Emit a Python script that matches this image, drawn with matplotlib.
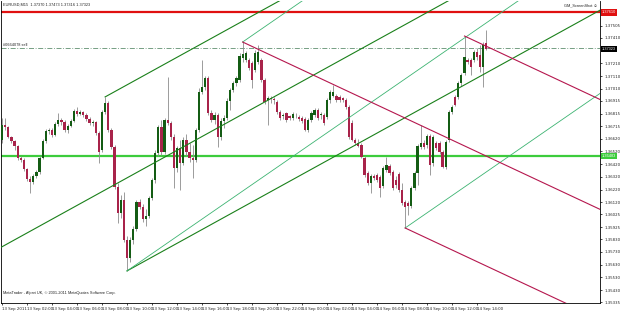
import matplotlib
matplotlib.use("Agg")
import matplotlib.pyplot as plt

# EURUSD M15, 13-14 Sep 2011, bar 0 = 13 Sep 00:00
symbol = "EURUSD,M15"

opens = [1.36609, 1.36727, 1.36711, 1.36633, 1.36601, 1.36562, 1.36468, 1.36452, 1.36381, 1.36303,
         1.36279, 1.36326, 1.36358, 1.36468, 1.36601, 1.36680, 1.36687, 1.36648, 1.36735, 1.36766,
         1.36750, 1.36687, 1.36719, 1.36758, 1.36837, 1.36813, 1.36829, 1.36805, 1.36774, 1.36742,
         1.36750, 1.36664, 1.36530, 1.36829, 1.36899, 1.36687, 1.36554, 1.36240, 1.36036, 1.36138,
         1.35824, 1.35683, 1.35824, 1.35910, 1.36122, 1.36083, 1.35989, 1.36012, 1.36154, 1.36295,
         1.36507, 1.36711, 1.36515, 1.36766, 1.36742, 1.36633, 1.36389, 1.36546, 1.36428, 1.36609,
         1.36515, 1.36468, 1.36452, 1.36687, 1.36986, 1.37025, 1.37096, 1.36821, 1.36766, 1.36805,
         1.36633, 1.36758, 1.36782, 1.36915, 1.37001, 1.37056, 1.37080, 1.37253, 1.37237, 1.37237,
         1.37213, 1.37158, 1.37221, 1.37237, 1.37080, 1.36923, 1.36939, 1.36931, 1.36907, 1.36829,
         1.36797, 1.36821, 1.36797, 1.36782, 1.36805, 1.36790, 1.36782, 1.36774, 1.36687, 1.36766,
         1.36805, 1.36844, 1.36805, 1.36805, 1.36790, 1.36923, 1.36954, 1.36954, 1.36947, 1.36939,
         1.36923, 1.36868, 1.36742, 1.36609, 1.36585, 1.36570, 1.36468, 1.36350, 1.36271, 1.36326,
         1.36334, 1.36319, 1.36248, 1.36373, 1.36405, 1.36358, 1.36295, 1.36342, 1.36216, 1.36122,
         1.36114, 1.36091, 1.36232, 1.36350, 1.36554, 1.36585, 1.36570, 1.36640, 1.36428, 1.36585,
         1.36585, 1.36515, 1.36397, 1.36609, 1.36829, 1.36947, 1.36947, 1.37056, 1.37135, 1.37237,
         1.37237, 1.37237, 1.37300, 1.37276, 1.37182, 1.37370]
highs = [1.36782, 1.36782, 1.36719, 1.36640, 1.36609, 1.36570, 1.36483, 1.36468, 1.36389, 1.36326,
         1.36342, 1.36373, 1.36483, 1.36617, 1.36695, 1.36703, 1.36703, 1.36750, 1.36821, 1.36782,
         1.36766, 1.36735, 1.36774, 1.36852, 1.36868, 1.36844, 1.36837, 1.36821, 1.36790, 1.36766,
         1.36758, 1.36680, 1.36844, 1.36947, 1.36915, 1.36703, 1.36570, 1.36271, 1.36177, 1.36201,
         1.35855, 1.35848, 1.35934, 1.36138, 1.36146, 1.36107, 1.36067, 1.36169, 1.36311, 1.36530,
         1.36727, 1.36766, 1.36782, 1.37104, 1.36758, 1.36656, 1.36562, 1.36609, 1.36633, 1.36656,
         1.36585, 1.36570, 1.36703, 1.37017, 1.37237, 1.37111, 1.37111, 1.36844, 1.36829, 1.36821,
         1.36782, 1.36805, 1.36939, 1.37017, 1.37072, 1.37111, 1.37292, 1.37378, 1.37308, 1.37253,
         1.37229, 1.37316, 1.37355, 1.37253, 1.37096, 1.36954, 1.36954, 1.36947, 1.36923, 1.36844,
         1.36821, 1.36829, 1.36805, 1.36829, 1.36821, 1.36805, 1.36797, 1.36790, 1.36782, 1.36837,
         1.36860, 1.36860, 1.36829, 1.36821, 1.36939, 1.37001, 1.37041, 1.36970, 1.36962, 1.36947,
         1.36939, 1.36884, 1.36766, 1.36625, 1.36617, 1.36585, 1.36483, 1.36366, 1.36342, 1.36342,
         1.36350, 1.36334, 1.36405, 1.36476, 1.36421, 1.36373, 1.36326, 1.36358, 1.36271, 1.36138,
         1.36130, 1.36248, 1.36366, 1.36578, 1.36727, 1.36609, 1.36656, 1.36656, 1.36648, 1.36601,
         1.36601, 1.36530, 1.36609, 1.36844, 1.36884, 1.36962, 1.37072, 1.37135, 1.37425, 1.37253,
         1.37253, 1.37316, 1.37331, 1.37355, 1.37378, 1.37473]
lows = [1.36585, 1.36687, 1.36625, 1.36585, 1.36530, 1.36452, 1.36436, 1.36366, 1.36287, 1.36193,
        1.36264, 1.36311, 1.36342, 1.36460, 1.36585, 1.36656, 1.36633, 1.36640, 1.36719, 1.36727,
        1.36672, 1.36664, 1.36711, 1.36750, 1.36797, 1.36805, 1.36790, 1.36758, 1.36727, 1.36719,
        1.36648, 1.36428, 1.36515, 1.36813, 1.36672, 1.36538, 1.36224, 1.35957, 1.35997, 1.35808,
        1.35581, 1.35651, 1.35793, 1.35895, 1.36067, 1.35965, 1.35934, 1.35997, 1.36138, 1.36271,
        1.36483, 1.36491, 1.36499, 1.36727, 1.36609, 1.36232, 1.36358, 1.36216, 1.36413, 1.36483,
        1.36436, 1.36311, 1.36436, 1.36672, 1.36970, 1.37001, 1.36805, 1.36750, 1.36735, 1.36554,
        1.36609, 1.36703, 1.36766, 1.36844, 1.36986, 1.37033, 1.37064, 1.37221, 1.37221, 1.37158,
        1.37017, 1.37143, 1.37206, 1.37064, 1.36892, 1.36727, 1.36899, 1.36892, 1.36813, 1.36766,
        1.36774, 1.36750, 1.36766, 1.36766, 1.36782, 1.36758, 1.36742, 1.36680, 1.36672, 1.36750,
        1.36790, 1.36766, 1.36774, 1.36727, 1.36774, 1.36899, 1.36947, 1.36907, 1.36907, 1.36907,
        1.36852, 1.36617, 1.36601, 1.36570, 1.36554, 1.36468, 1.36319, 1.36256, 1.36193, 1.36295,
        1.36279, 1.36162, 1.36232, 1.36358, 1.36334, 1.36216, 1.36232, 1.36201, 1.36099, 1.35918,
        1.36020, 1.36075, 1.36216, 1.36256, 1.36538, 1.36538, 1.36546, 1.36334, 1.36405, 1.36530,
        1.36499, 1.36389, 1.36381, 1.36593, 1.36813, 1.36876, 1.36931, 1.37033, 1.37119, 1.37206,
        1.37119, 1.37221, 1.37237, 1.37143, 1.37025, 1.37316]
closes = [1.36727, 1.36711, 1.36633, 1.36601, 1.36562, 1.36468, 1.36452, 1.36381, 1.36303, 1.36279,
          1.36326, 1.36358, 1.36468, 1.36601, 1.36680, 1.36687, 1.36648, 1.36735, 1.36766, 1.36750,
          1.36687, 1.36719, 1.36758, 1.36837, 1.36813, 1.36829, 1.36805, 1.36774, 1.36742, 1.36750,
          1.36664, 1.36515, 1.36829, 1.36899, 1.36687, 1.36554, 1.36240, 1.36036, 1.36138, 1.35824,
          1.35683, 1.35824, 1.35910, 1.36122, 1.36083, 1.35989, 1.36012, 1.36154, 1.36295, 1.36507,
          1.36711, 1.36515, 1.36766, 1.36742, 1.36633, 1.36389, 1.36546, 1.36428, 1.36609, 1.36515,
          1.36468, 1.36452, 1.36687, 1.36986, 1.37025, 1.37096, 1.36821, 1.36766, 1.36805, 1.36633,
          1.36758, 1.36782, 1.36915, 1.37001, 1.37056, 1.37096, 1.37268, 1.37284, 1.37292, 1.37174,
          1.37080, 1.37292, 1.37300, 1.37080, 1.36907, 1.36939, 1.36931, 1.36923, 1.36829, 1.36782,
          1.36805, 1.36766, 1.36782, 1.36813, 1.36805, 1.36774, 1.36758, 1.36687, 1.36766, 1.36821,
          1.36844, 1.36782, 1.36813, 1.36742, 1.36923, 1.36986, 1.36986, 1.36923, 1.36923, 1.36923,
          1.36868, 1.36633, 1.36609, 1.36585, 1.36562, 1.36476, 1.36334, 1.36271, 1.36326, 1.36311,
          1.36295, 1.36232, 1.36389, 1.36413, 1.36350, 1.36232, 1.36256, 1.36216, 1.36114, 1.36083,
          1.36091, 1.36232, 1.36350, 1.36562, 1.36585, 1.36554, 1.36640, 1.36413, 1.36633, 1.36546,
          1.36515, 1.36397, 1.36593, 1.36829, 1.36868, 1.36884, 1.37056, 1.37119, 1.37261, 1.37221,
          1.37182, 1.37300, 1.37261, 1.37182, 1.37355, 1.37323]

time_labels = ["13 Sep 2011", "13 Sep 02:00", "13 Sep 04:00", "13 Sep 06:00", "13 Sep 08:00",
               "13 Sep 10:00", "13 Sep 12:00", "13 Sep 14:00", "13 Sep 16:00", "13 Sep 18:00",
               "13 Sep 20:00", "13 Sep 22:00", "14 Sep 00:00", "14 Sep 02:00", "14 Sep 04:00",
               "14 Sep 06:00", "14 Sep 08:00", "14 Sep 10:00", "14 Sep 12:00", "14 Sep 14:00"]
price_ticks = [1.35335, 1.35430, 1.35530, 1.35630, 1.35730, 1.35830, 1.35925, 1.36025, 1.36120,
               1.36220, 1.36320, 1.36420, 1.36520, 1.36620, 1.36715, 1.36815, 1.36915, 1.37010,
               1.37110, 1.37210, 1.37410, 1.37505]

red_level = 1.37610
green_level = 1.36483
sell_level = 1.37333
sell_ticket = "#0664078 sell"

# Andrews pitchforks: pivot A, B, C as (bar, price)
fork_green = [(-20, 1.35500), (33, highs[33]), (40, lows[40])]
fork_teal = [(40, lows[40]), (77, highs[77]), (129, lows[129])]
fork_crimson = [(77, highs[77]), (148, highs[148]), (129, lows[129])]

W, H = 625, 313
fig = plt.figure(figsize=(W / 100, H / 100), dpi=100)
fig.patch.set_facecolor("white")
ax = fig.add_axes([1 / W, 1 - 303 / H, 599 / W, 302 / H])
ax.set_facecolor("white")
plt.rcParams["font.family"] = ["Liberation Sans", "DejaVu Sans"]
fs = 2.8
txt = "#222222"

n = len(closes)
ax.set_xlim(-0.32, 191.36)
ax.set_ylim(1.35329, 1.37700)

# horizontal levels
ax.axhline(red_level, color="#e01010", lw=1.6, zorder=2)
ax.axhline(green_level, color="#3ccc3c", lw=1.6, zorder=2)
ax.axhline(sell_level, color="#5f8f6f", lw=0.6, ls=(0, (6, 2, 1, 2)), zorder=2)


def pitchfork(pts, color, lw):
    (xa, ya), (xb, yb), (xc, yc) = pts
    xm, ym = (xb + xc) / 2, (yb + yc) / 2
    k = (ym - ya) / (xm - xa)
    far = 400
    for x0, y0 in [(xa, ya), (xb, yb), (xc, yc)]:
        ax.plot([x0, far], [y0, y0 + k * (far - x0)], color=color, lw=lw, zorder=4)


pitchfork(fork_green, "#1a801a", 0.8)
pitchfork(fork_teal, "#3cb371", 0.6)
pitchfork(fork_crimson, "#b5174e", 0.8)

# candles
for i in range(n):
    o, h, l, c = opens[i], highs[i], lows[i], closes[i]
    ax.vlines(i, l, h, color="#8c8c8c", lw=0.6, zorder=3)
    col = "#145c14" if c >= o else "#a8234a"
    body = max(abs(c - o), 0.00003)
    ax.bar(i, body, bottom=min(o, c), width=0.72, color=col, lw=0, zorder=3)

# axes look
ax.spines["top"].set_visible(False)
for s in ["left", "right", "bottom"]:
    ax.spines[s].set_linewidth(0.6)
    ax.spines[s].set_color("black")

ax.yaxis.tick_right()
ax.set_yticks(price_ticks)
ax.set_yticklabels([f"{p:.5f}" for p in price_ticks], fontsize=fs, color=txt)
ax.tick_params(axis="y", length=1.5, width=0.5, pad=1.5)
ax.set_xticks(range(0, 8 * len(time_labels), 8))
ax.set_xticklabels(time_labels, fontsize=fs, color=txt)
ax.tick_params(axis="x", length=1.5, width=0.5, pad=1.2)
for lab in ax.get_xticklabels():
    lab.set_ha("left")

# price boxes on the right scale
yt = ax.get_yaxis_transform()
for price, face, label in [(red_level, "#e01010", f"{red_level:.5f}"),
                           (closes[-1], "black", f"{closes[-1]:.5f}"),
                           (green_level, "#3ccc3c", f"{green_level:.5f}")]:
    ax.text(1.003, price, label, transform=yt, fontsize=fs, color="white",
            ha="left", va="center", zorder=6, clip_on=False,
            bbox=dict(facecolor=face, edgecolor="none", pad=0.8))

# texts
ax.text(0.003, sell_level + 0.00008, sell_ticket, transform=yt, fontsize=fs,
        color=txt, ha="left", va="bottom")
fig.text(3 / W, 1 - 5 / H, f"{symbol}  {opens[-1]:.5f} {highs[-1]:.5f} {lows[-1]:.5f} {closes[-1]:.5f}",
         fontsize=fs, color=txt, ha="left", va="center")
fig.text(597 / W, 1 - 5 / H, "GM_ScreenShot \u263a", fontsize=fs, color=txt,
         ha="right", va="center", family=["Liberation Sans", "DejaVu Sans"])
fig.text(3 / W, 1 - 293 / H, "MetaTrader - Alpari UK, \u00a9 2001-2011 MetaQuotes Software Corp.",
         fontsize=fs, color=txt, ha="left", va="center")

fig.savefig("out.png", dpi=100, facecolor="white")
